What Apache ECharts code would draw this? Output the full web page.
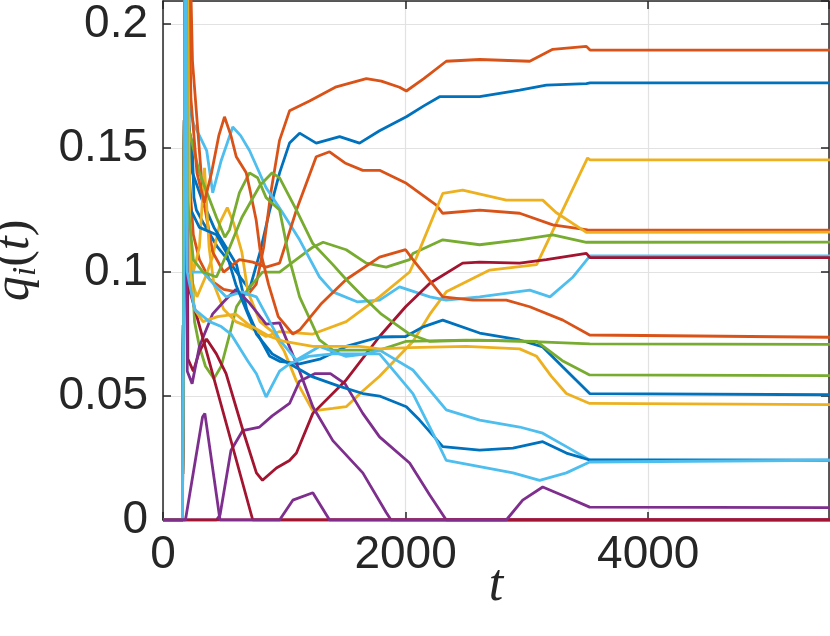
<!DOCTYPE html>
<html>
<head>
<meta charset="utf-8">
<script src="https://cdn.jsdelivr.net/npm/echarts@6/dist/echarts.min.js"></script>
<style>
html,body{margin:0;padding:0;background:#fff;}
#chart{width:830px;height:636px;}
</style>
</head>
<body>
<div id="chart"></div>
<script>
// ---- data: [t, q_i(t)] ----
const blue1 = [[0,0],[160,0],[190,0.3],[210,0.158],[240,0.152],[255,0.13],[275,0.125],[330,0.12],[450,0.11],[550,0.104],[650,0.097],[713,0.093],[800,0.108],[880,0.125],[961,0.14],[1043,0.152],[1126,0.156],[1263,0.152],[1456,0.1546],[1620,0.152],[1785,0.157],[2006,0.1626],[2150,0.167],[2280,0.1707],[2610,0.1707],[2940,0.1734],[3160,0.1754],[3490,0.176],[3520,0.1763],[5500,0.1763]];
const blue2 = [[0,0],[160,0],[190,0.3],[215,0.16],[243,0.14],[330,0.128],[420,0.118],[520,0.11],[606,0.103],[690,0.085],[780,0.075],[880,0.066],[961,0.064],[1126,0.063],[1300,0.065],[1510,0.07],[1785,0.0738],[2000,0.074],[2150,0.078],[2306,0.0806],[2610,0.0754],[2940,0.0726],[3130,0.0698],[3296,0.0617],[3517,0.051],[5500,0.0505]];
const blue3 = [[0,0],[160,0],[185,0.25],[200,0.14],[230,0.125],[300,0.118],[441,0.115],[520,0.108],[600,0.095],[700,0.083],[770,0.075],[900,0.067],[1043,0.063],[1235,0.0577],[1450,0.054],[1647,0.051],[1785,0.05],[2006,0.0457],[2115,0.0403],[2306,0.0296],[2610,0.0282],[2885,0.029],[3130,0.0316],[3325,0.027],[3517,0.0242],[5500,0.0241]];
const orange1 = [[0,0],[160,0],[190,0.3],[215,0.14],[250,0.115],[300,0.105],[384,0.097],[500,0.093],[606,0.092],[700,0.091],[768,0.095],[830,0.11],[892,0.133],[960,0.153],[1043,0.165],[1208,0.169],[1428,0.1747],[1676,0.178],[1800,0.177],[1950,0.1745],[2006,0.173],[2150,0.178],[2335,0.185],[2610,0.1857],[3023,0.185],[3213,0.1898],[3490,0.191],[3520,0.1895],[5500,0.1895]];
const orange2 = [[0,0],[160,0],[190,0.3],[243,0.185],[330,0.13],[410,0.108],[500,0.1],[630,0.105],[740,0.104],[850,0.102],[961,0.1036],[1100,0.125],[1263,0.1465],[1373,0.1485],[1500,0.144],[1647,0.141],[1785,0.141],[2006,0.1358],[2253,0.127],[2306,0.1237],[2610,0.125],[2940,0.1237],[3213,0.119],[3500,0.117],[5500,0.1169]];
const orange3 = [[0,0],[160,0],[190,0.3],[230,0.17],[280,0.14],[340,0.128],[400,0.14],[460,0.155],[507,0.1626],[560,0.155],[604,0.1465],[686,0.14],[713,0.134],[768,0.121],[800,0.109],[870,0.095],[950,0.082],[1070,0.075],[1126,0.0766],[1300,0.087],[1510,0.097],[1785,0.106],[2000,0.109],[2060,0.105],[2306,0.09],[2555,0.0887],[2830,0.0887],[3023,0.086],[3296,0.0806],[3517,0.0746],[5500,0.0737]];
const yellow1 = [[0,0],[160,0],[190,0.25],[200,0.15],[215,0.1],[280,0.09],[350,0.098],[408,0.106],[470,0.12],[530,0.126],[580,0.12],[650,0.108],[700,0.092],[800,0.08],[900,0.076],[1000,0.068],[1100,0.056],[1235,0.044],[1400,0.045],[1510,0.0457],[1647,0.052],[1785,0.058],[2060,0.072],[2200,0.083],[2335,0.092],[2693,0.1008],[3080,0.103],[3500,0.146],[3520,0.1452],[5500,0.1452]];
const yellow2 = [[0,0],[160,0],[190,0.25],[205,0.12],[250,0.1],[300,0.11],[342,0.142],[380,0.11],[420,0.095],[500,0.085],[600,0.08],[700,0.078],[850,0.074],[961,0.076],[1235,0.075],[1510,0.08],[1785,0.09],[2033,0.1],[2090,0.106],[2306,0.1317],[2470,0.133],[2830,0.129],[3130,0.129],[3240,0.124],[3490,0.116],[5500,0.1161]];
const yellow3 = [[0,0],[160,0],[190,0.3],[205,0.2],[225,0.1],[260,0.085],[330,0.08],[450,0.082],[600,0.083],[700,0.079],[880,0.074],[1000,0.072],[1235,0.07],[1620,0.07],[1785,0.069],[2033,0.0695],[2500,0.07],[2940,0.069],[3080,0.066],[3200,0.058],[3325,0.051],[3517,0.047],[5500,0.0465]];
const purple1 = [[0,0],[440,0],[470,0.002],[560,0.028],[656,0.036],[796,0.0375],[900,0.042],[1043,0.047],[1126,0.056],[1250,0.059],[1380,0.059],[1500,0.055],[1647,0.043],[1785,0.0335],[2033,0.023],[2200,0.01],[2335,0],[5500,0]];
const purple2 = [[0,0],[160,0],[188,0.2],[200,0.06],[240,0.055],[300,0.07],[408,0.083],[500,0.088],[600,0.093],[713,0.0875],[850,0.079],[961,0.0795],[1126,0.06],[1235,0.0457],[1400,0.032],[1647,0.019],[1840,0.003],[1880,0],[5500,0]];
const purple3 = [[0,0],[185,0],[326,0.0415],[345,0.043],[470,0],[961,0],[1070,0.008],[1235,0.011],[1373,0],[2830,0],[2965,0.008],[3130,0.0133],[3325,0.0093],[3517,0.0052],[5500,0.005]];
const green1 = [[0,0],[160,0],[190,0.3],[200,0.17],[220,0.12],[260,0.08],[300,0.07],[350,0.062],[420,0.057],[480,0.062],[550,0.075],[606,0.086],[700,0.093],[820,0.1],[961,0.1],[1070,0.104],[1235,0.11],[1320,0.112],[1510,0.109],[1676,0.1036],[1840,0.102],[2033,0.105],[2060,0.1075],[2306,0.113],[2610,0.111],[2940,0.113],[3213,0.115],[3490,0.112],[5500,0.1121]];
const green2 = [[0,0],[160,0],[190,0.3],[200,0.16],[300,0.14],[441,0.122],[510,0.114],[548,0.117],[630,0.132],[713,0.14],[780,0.138],[850,0.13],[961,0.125],[1043,0.105],[1126,0.09],[1290,0.0726],[1400,0.0685],[1785,0.0685],[2000,0.072],[2500,0.0725],[3080,0.072],[3300,0.064],[3517,0.0585],[5500,0.0582]];
const green3 = [[0,0],[160,0],[190,0.3],[200,0.13],[250,0.105],[330,0.1],[441,0.098],[550,0.11],[650,0.122],[800,0.135],[900,0.14],[961,0.138],[1100,0.125],[1235,0.1115],[1400,0.103],[1510,0.097],[1650,0.09],[1800,0.083],[2033,0.075],[2200,0.072],[2600,0.0725],[3000,0.072],[3517,0.071],[5500,0.0708]];
const lblue1 = [[0,0],[160,0],[190,0.3],[200,0.17],[250,0.16],[300,0.155],[360,0.149],[410,0.132],[480,0.145],[575,0.1585],[640,0.155],[713,0.149],[850,0.134],[985,0.124],[1126,0.113],[1290,0.098],[1400,0.092],[1600,0.088],[1785,0.0887],[1950,0.094],[2200,0.09],[2335,0.0887],[2610,0.09],[3023,0.0927],[3190,0.09],[3380,0.098],[3520,0.1065],[5500,0.1065]];
const lblue2 = [[0,0],[160,0],[190,0.3],[200,0.12],[230,0.1],[330,0.1],[420,0.095],[520,0.09],[650,0.092],[770,0.09],[880,0.08],[961,0.0726],[1100,0.0645],[1290,0.07],[1510,0.066],[1676,0.067],[1785,0.0685],[2060,0.0605],[2335,0.0444],[2610,0.0403],[2940,0.0375],[3130,0.035],[3325,0.0296],[3517,0.0242],[5500,0.0241]];
const lblue3 = [[0,0],[160,0],[190,0.25],[200,0.1],[260,0.085],[383,0.08],[480,0.078],[560,0.075],[700,0.064],[770,0.059],[850,0.0496],[961,0.06],[1043,0.063],[1200,0.066],[1400,0.067],[1600,0.067],[1785,0.067],[2060,0.051],[2280,0.0296],[2335,0.024],[2610,0.0215],[2885,0.019],[3105,0.016],[3325,0.019],[3517,0.0234],[5500,0.0241]];
const red1 = [[0,0],[160,0],[190,0.3],[205,0.065],[250,0.06],[300,0.068],[359,0.073],[440,0.067],[520,0.059],[660,0.036],[770,0.019],[820,0.016],[935,0.021],[1043,0.024],[1100,0.027],[1235,0.043],[1510,0.0565],[1785,0.074],[2000,0.086],[2200,0.0955],[2470,0.1036],[2610,0.104],[2940,0.1036],[3160,0.105],[3490,0.1075],[3520,0.1058],[5500,0.1058]];
const red2 = [[0,0],[160,0],[190,0.3],[218,0.093],[740,0],[5500,0]];
const red3 = [[0,0],[5500,0]];

const xTicks = [0, 2000, 4000];
const yTicks = [0, 0.05, 0.1, 0.15, 0.2];

// ---- styles ----
const C = {blue:'#0072BD', orange:'#D95319', yellow:'#EDB120', purple:'#7E2F8E', green:'#77AC30', lblue:'#4DBEEE', red:'#A2142F'};
const seriesList = [
  [blue1,C.blue],[orange1,C.orange],[yellow1,C.yellow],[purple1,C.purple],[green1,C.green],[lblue1,C.lblue],[red1,C.red],
  [blue2,C.blue],[orange2,C.orange],[yellow2,C.yellow],[purple2,C.purple],[green2,C.green],[lblue2,C.lblue],[red2,C.red],
  [blue3,C.blue],[orange3,C.orange],[yellow3,C.yellow],[green3,C.green],[lblue3,C.lblue],[red3,C.red],[purple3,C.purple]
];

const axisColor = '#262626';
const gridColor = '#e2e2e2';
const XMAX = 5490, YMAX = 0.2093;
const labelFont = 'Liberation Sans, Arial, Helvetica, sans-serif';
const serif = 'Liberation Serif, Times New Roman, serif';

const chart = echarts.init(document.getElementById('chart'), null, {renderer:'canvas'});
chart.setOption({
  animation:false,
  backgroundColor:'#ffffff',
  grid:{left:163, right:1, top:1, bottom:116, containLabel:false, outerBoundsMode:'none'},
  xAxis:[{
    type:'value', min:0, max:XMAX, interval:2000, position:'bottom',
    axisLine:{show:true, onZero:false, lineStyle:{color:axisColor, width:1.5}},
    axisTick:{show:true, inside:true, length:8, lineStyle:{color:axisColor, width:1.5}},
    axisLabel:{show:true, color:axisColor, fontSize:46, fontFamily:labelFont, margin:12, showMaxLabel:false,
      formatter:(v)=> xTicks.indexOf(v)>=0 ? String(v) : ''},
    splitLine:{show:true, lineStyle:{color:gridColor, width:1.2}},
    name:'t', nameLocation:'middle', nameGap:40, nameMoveOverlap:false,
    nameTextStyle:{fontFamily:serif, fontStyle:'italic', fontSize:52, color:axisColor}
  },{
    type:'value', min:0, max:XMAX, interval:2000, position:'top',
    axisLine:{show:true, onZero:false, lineStyle:{color:axisColor, width:1.5}},
    axisTick:{show:true, inside:true, length:8, lineStyle:{color:axisColor, width:1.5}},
    axisLabel:{show:false}, splitLine:{show:false}
  }],
  yAxis:[{
    type:'value', min:0, max:YMAX, interval:0.05, position:'left',
    axisLine:{show:true, onZero:false, lineStyle:{color:axisColor, width:1.5}},
    axisTick:{show:true, inside:true, length:8, lineStyle:{color:axisColor, width:1.5}},
    axisLabel:{show:true, color:axisColor, fontSize:46, fontFamily:labelFont, margin:15, showMaxLabel:false,
      formatter:(v)=>{ const r = Math.round(v*100)/100; const i = yTicks.indexOf(r); return i>=0 ? String(yTicks[i]) : ''; }},
    splitLine:{show:true, lineStyle:{color:gridColor, width:1.2}},
    name:'{it|q}{sub|i}{rm|(}{it|t}{rm|)}', nameLocation:'middle', nameGap:120, nameRotate:90, nameMoveOverlap:false,
    nameTextStyle:{color:axisColor, rich:{
      it:{fontFamily:serif, fontStyle:'italic', fontSize:50, color:axisColor},
      sub:{fontFamily:serif, fontStyle:'italic', fontSize:34, color:axisColor, verticalAlign:'bottom', padding:[22,0,0,0]},
      rm:{fontFamily:serif, fontSize:50, color:axisColor}
    }}
  },{
    type:'value', min:0, max:YMAX, interval:0.05, position:'right',
    axisLine:{show:true, onZero:false, lineStyle:{color:axisColor, width:1.5}},
    axisTick:{show:true, inside:true, length:8, lineStyle:{color:axisColor, width:1.5}},
    axisLabel:{show:false}, splitLine:{show:false}
  }],
  series: seriesList.map(([d,c])=>({
    type:'line', data:d, xAxisIndex:0, yAxisIndex:0, showSymbol:false, symbol:'none',
    lineStyle:{color:c, width:2.8}, itemStyle:{color:c}, clip:true, silent:true
  }))
});
</script>
</body>
</html>
